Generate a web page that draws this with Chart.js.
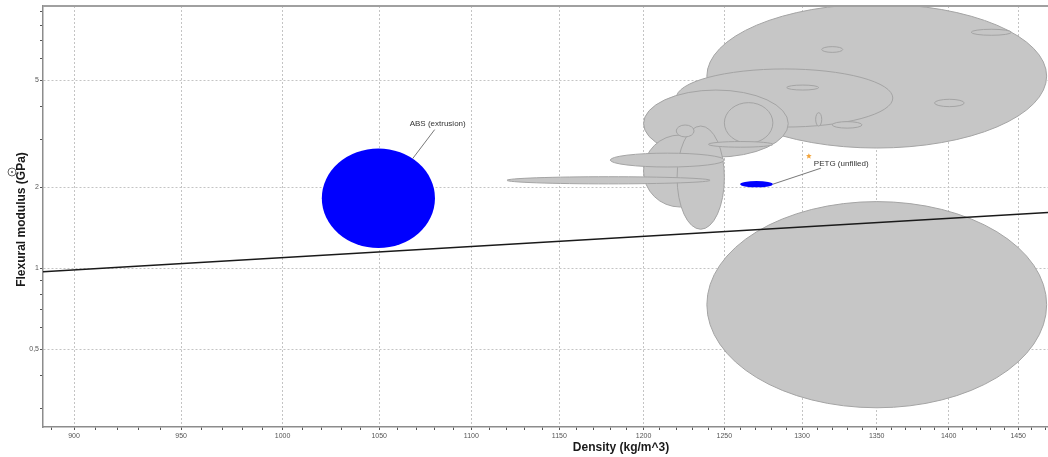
<!DOCTYPE html>
<html>
<head>
<meta charset="utf-8">
<title>Flexural modulus vs density</title>
<script src="https://cdn.jsdelivr.net/npm/chart.js@4.4.1/dist/chart.umd.min.js"></script>
<style>
  html, body { margin: 0; padding: 0; background: #fff; }
  #wrap { position: relative; width: 1048px; height: 457px; }
</style>
</head>
<body>
<div id="wrap"><canvas id="ashby-chart"></canvas></div>
<script>
// grey property bubbles: density range (kg/m^3) and flexural modulus range (GPa), drawn in this order
const greyDensityLow   = [1239, 1239, 1220, 1200, 1250, 1200, 1220.5, 1220, 1180, 1120, 1240, 1313, 1416, 1290, 1390, 1320, 1309];
const greyDensityHigh  = [1471, 1471, 1361, 1291, 1281, 1245, 1250,   1231, 1250, 1241, 1281, 1327, 1445, 1311, 1411, 1340, 1313];
const greyModulusLow   = [0.303, 2.80, 3.35, 2.59, 2.92, 1.69, 1.397, 3.08, 2.38, 2.06, 2.82, 6.35, 7.35, 4.60, 3.99, 3.32, 3.38];
const greyModulusHigh  = [1.77,  9.6,  5.51, 4.60, 4.13, 3.13, 3.38,  3.41, 2.68, 2.19, 2.96, 6.67, 7.74, 4.80, 4.25, 3.51, 3.79];

// highlighted materials
const highlightNames       = ['ABS (extrusion)', 'PETG (unfilled)'];
const highlightDensityLow  = [1020, 1260];
const highlightDensityHigh = [1080, 1281];
const highlightModulusLow  = [1.19, 2.00];
const highlightModulusHigh = [2.79, 2.11];

// E / rho guide line
const guideDensity = [886, 1472];
const guideModulus = [0.9715, 1.614];

// axis labels
const densityTickLabels = [900, 950, 1000, 1050, 1100, 1150, 1200, 1250, 1300, 1350, 1400, 1450];
const modulusTickLabels = [0.5, 1, 2, 5];
const modulusMinorTicks = [0.3, 0.4, 0.6, 0.7, 0.8, 0.9, 3, 4, 6, 7, 8, 9];
const xTitle = 'Density (kg/m^3)';
const yTitle = 'Flexural modulus (GPa)';

const FONT = '"Liberation Sans", Arial, sans-serif';

// minor density ticks every 10 kg/m^3
const densityTickMarks = [];
for (let d = 890; d <= 1470; d += 10) densityTickMarks.push(d);
const modulusTickMarks = modulusMinorTicks.concat(modulusTickLabels).sort((a, b) => a - b);

function bubbleBox(xs, ys, dLo, dHi, eLo, eHi) {
  const x1 = xs.getPixelForValue(dLo), x2 = xs.getPixelForValue(dHi);
  const y1 = ys.getPixelForValue(eHi), y2 = ys.getPixelForValue(eLo);
  return { cx: (x1 + x2) / 2, cy: (y1 + y2) / 2, rx: (x2 - x1) / 2, ry: (y2 - y1) / 2 };
}

function drawEllipse(ctx, b, fill, stroke) {
  ctx.beginPath();
  ctx.ellipse(b.cx, b.cy, b.rx, b.ry, 0, 0, Math.PI * 2);
  ctx.fillStyle = fill;
  ctx.fill();
  if (stroke) {
    ctx.lineWidth = 1;
    ctx.strokeStyle = stroke;
    ctx.stroke();
  }
}

function drawStar(ctx, x, y, r, color) {
  ctx.beginPath();
  for (let i = 0; i < 10; i++) {
    const a = -Math.PI / 2 + i * Math.PI / 5;
    const rr = i % 2 ? r * 0.45 : r;
    ctx.lineTo(x + rr * Math.cos(a), y + rr * Math.sin(a));
  }
  ctx.closePath();
  ctx.fillStyle = color;
  ctx.fill();
}

// leader lines: angle on the ellipse, leader end offset, text offset from leader end
const callouts = [
  { angle: -0.92, dx: 22, dy: -29, tx: -25, ty: -4, star: false },
  { angle: 0,     dx: 48, dy: -16, tx: -7,  ty: -2, star: true }
];

const bubblePlugin = {
  id: 'propertyBubbles',
  beforeDatasetsDraw(chart) {
    const { ctx, chartArea: a, scales: { x, y } } = chart;
    ctx.save();
    ctx.beginPath();
    ctx.rect(a.left, a.top, a.right - a.left, a.bottom - a.top);
    ctx.clip();
    greyDensityLow.forEach((lo, i) => {
      const b = bubbleBox(x, y, lo, greyDensityHigh[i], greyModulusLow[i], greyModulusHigh[i]);
      drawEllipse(ctx, b, '#c6c6c6', '#a4a4a4');
    });
    highlightDensityLow.forEach((lo, i) => {
      const b = bubbleBox(x, y, lo, highlightDensityHigh[i], highlightModulusLow[i], highlightModulusHigh[i]);
      drawEllipse(ctx, b, '#0000ff', null);
    });
    ctx.restore();
  },
  afterDatasetsDraw(chart) {
    const { ctx, scales: { x, y } } = chart;
    ctx.save();
    ctx.font = '8px ' + FONT;
    ctx.textBaseline = 'alphabetic';
    ctx.textAlign = 'left';
    highlightNames.forEach((name, i) => {
      const b = bubbleBox(x, y, highlightDensityLow[i], highlightDensityHigh[i], highlightModulusLow[i], highlightModulusHigh[i]);
      const c = callouts[i];
      const px = b.cx + b.rx * Math.cos(c.angle);
      const py = b.cy + b.ry * Math.sin(c.angle);
      const ex = px + c.dx, ey = py + c.dy;
      ctx.beginPath();
      ctx.moveTo(px, py);
      ctx.lineTo(ex, ey);
      ctx.lineWidth = 0.8;
      ctx.strokeStyle = '#555';
      ctx.stroke();
      ctx.fillStyle = '#333';
      ctx.fillText(name, ex + c.tx, ey + c.ty);
      if (c.star) drawStar(ctx, ex + c.tx - 5, ey + c.ty - 10, 3, '#f3a43a');
    });
    ctx.restore();
  },
  afterDraw(chart) {
    const { ctx, chartArea: a } = chart;
    ctx.save();
    // frame top
    ctx.beginPath();
    ctx.moveTo(a.left, a.top);
    ctx.lineTo(a.right, a.top);
    ctx.lineWidth = 2;
    ctx.strokeStyle = '#a0a0a0';
    ctx.stroke();

    ctx.fillStyle = '#1a1a1a';
    ctx.font = 'bold 12px ' + FONT;
    ctx.textAlign = 'center';
    ctx.textBaseline = 'middle';
    ctx.fillText(xTitle, 621, 448);

    ctx.translate(22, (a.top + a.bottom) / 2 + 3);
    ctx.rotate(-Math.PI / 2);
    ctx.fillText(yTitle, 0, 0);
    ctx.restore();

    // small log-scale marker beside the y title
    ctx.save();
    ctx.beginPath();
    ctx.arc(12, 172, 4, 0, Math.PI * 2);
    ctx.lineWidth = 0.9;
    ctx.strokeStyle = '#555';
    ctx.stroke();
    ctx.beginPath();
    ctx.arc(12, 172, 1, 0, Math.PI * 2);
    ctx.fillStyle = '#555';
    ctx.fill();
    ctx.restore();
  }
};

const ctx = document.getElementById('ashby-chart').getContext('2d');
const chart = new Chart(ctx, {
  type: 'line',
  data: {
    datasets: [{
      label: 'E / rho',
      data: guideDensity.map((d, i) => ({ x: d, y: guideModulus[i] })),
      borderColor: '#1a1a1a',
      borderWidth: 1.5,
      pointRadius: 0,
      fill: false,
      tension: 0
    }]
  },
  options: {
    responsive: true,
    maintainAspectRatio: false,
    animation: false,
    layout: { padding: { top: 6, left: 0, right: 0, bottom: 0 } },
    scales: {
      x: {
        type: 'logarithmic',
        min: 886,
        max: 1472,
        afterBuildTicks: s => { s.ticks = densityTickMarks.map(v => ({ value: v })); },
        afterFit: s => { s.height = 30; },
        ticks: {
          autoSkip: false,
          maxRotation: 0,
          minRotation: 0,
          padding: 2,
          color: '#555',
          font: { size: 7, family: FONT },
          callback: v => densityTickLabels.includes(v) ? String(v) : ''
        },
        grid: {
          color: c => (c.tick && densityTickLabels.includes(c.tick.value)) ? '#c4c4c4' : 'rgba(0,0,0,0)',
          lineWidth: 1,
          tickColor: '#555',
          tickLength: 3,
          tickBorderDash: []
        },
        border: { color: '#8c8c8c', width: 1.5, dash: [2, 2] }
      },
      y: {
        type: 'logarithmic',
        min: 0.257,
        max: 9.445,
        afterBuildTicks: s => { s.ticks = modulusTickMarks.map(v => ({ value: v })); },
        afterFit: s => { s.width = 43; },
        ticks: {
          autoSkip: false,
          padding: 1,
          color: '#555',
          font: { size: 7, family: FONT },
          callback: v => modulusTickLabels.includes(v) ? String(v).replace('.', ',') : ''
        },
        grid: {
          color: c => (c.tick && modulusTickLabels.includes(c.tick.value)) ? '#c4c4c4' : 'rgba(0,0,0,0)',
          lineWidth: 1,
          tickColor: '#555',
          tickLength: 3,
          tickBorderDash: []
        },
        border: { color: '#8c8c8c', width: 1.5, dash: [2, 2] }
      }
    },
    plugins: {
      legend: { display: false },
      tooltip: { enabled: false }
    }
  },
  plugins: [bubblePlugin]
});
</script>
</body>
</html>
